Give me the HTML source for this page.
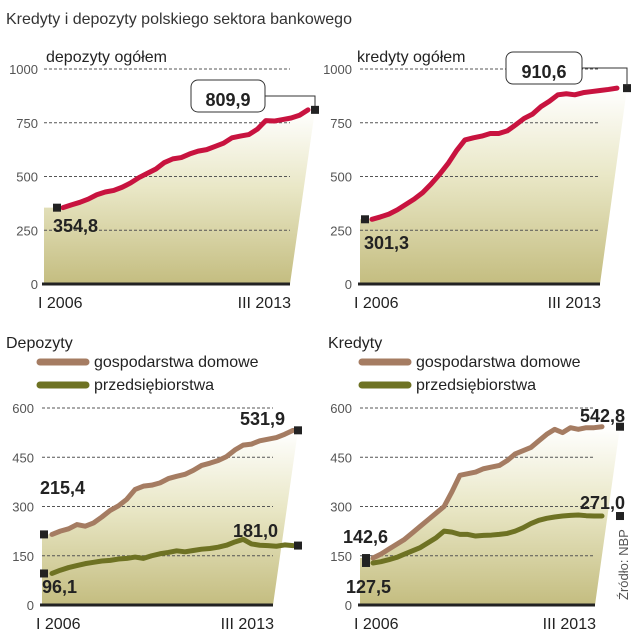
<!DOCTYPE html>
<html><head><meta charset="utf-8"><style>
body{margin:0;background:#fff;}
svg{display:block;font-family:"Liberation Sans",sans-serif;}
.ax{font-size:13px;fill:#555;}
.ttl{font-size:16px;fill:#222;}
.val{font-size:18px;font-weight:bold;fill:#222;font-family:"Liberation Sans Narrow","Liberation Sans",sans-serif;}
</style></head><body>
<svg id="c" width="640" height="640" viewBox="0 0 640 640">
<defs><linearGradient id="g" x1="0" y1="1" x2="0" y2="0"><stop offset="0" stop-color="#c4bd80"/><stop offset="0.55" stop-color="#e9e7c6"/><stop offset="1" stop-color="#ffffff"/></linearGradient></defs>
<text x="6" y="24" font-size="16" fill="#333">Kredyty i depozyty polskiego sektora bankowego</text>
</svg>
<script>
const depTotal=[355,368,380,395,415,428,435,450,470,495,515,535,565,582,588,605,618,625,640,655,680,688,695,720,760,758,765,772,785,810];
const credTotal=[301,312,325,345,370,395,425,465,510,560,620,670,680,688,700,700,712,740,770,790,825,850,880,885,880,890,895,900,905,911];
const depHouse=[215,225,232,245,240,250,268,288,302,322,352,362,365,372,385,392,398,410,425,432,440,452,472,487,490,500,505,510,520,532];
const depFirm=[96,106,114,120,126,130,134,136,140,142,146,142,150,156,160,165,162,166,170,172,176,182,192,200,186,182,181,179,183,181];
const credHouse=[143,155,170,185,200,220,240,260,280,300,345,395,400,405,415,420,425,440,460,470,480,500,520,535,525,540,535,540,540,543];
const credFirm=[128,132,138,145,155,165,175,190,205,225,222,215,215,210,212,213,215,218,225,235,248,258,264,268,271,273,274,272,271,271];
const topTicks=[0,250,500,750,1000];
const botTicks=[0,150,300,450,600];
const xLabels=["I 2006","III 2013"];

const svg=document.getElementById('c');
const NS='http://www.w3.org/2000/svg';
function mk(tag,attrs,name,parent){const e=document.createElementNS(NS,tag);for(const k in attrs)e.setAttribute(k,attrs[k]);


(parent||svg).appendChild(e);return e;}
function txt(x,y,s,cls,name,anchor){const t=mk('text',{x:x,y:y,class:cls,'text-anchor':anchor||'start'},name);t.textContent=s;return t;}

function panel(p){
  const yS=v=>p.y0-(v/p.max)*(p.y0-p.y1);
  const xS=i=>p.lx0+i*(p.lx1-p.lx0)/(p.series[0].data.length-1);
  const hi=p.series[0].data;
  const linePts=hi.map((v,i)=>xS(i)+','+yS(v)).join(' ');
  mk('polygon',{points:`${p.gx0},${p.y0} ${p.gx0},${yS(hi[0])} ${linePts} ${p.mx1},${yS(hi[hi.length-1])} ${p.gx1},${p.y0}`,fill:'url(#g)'},p.id+'-area');
  p.ticks.forEach((t,i)=>{
    if(i>0)mk('line',{x1:p.gx0,x2:p.gx1,y1:yS(t),y2:yS(t),stroke:'#555','stroke-dasharray':'3,2','stroke-width':1},p.id+'-gridline');
    txt(p.ax,yS(t)+5,String(t),'ax',p.id+'-y-tick','end');
  });
  mk('line',{x1:p.gx0-2,x2:p.gx1,y1:p.y0,y2:p.y0,stroke:'#222','stroke-width':3},p.id+'-x-axis');
  txt(p.gx0-6,p.y0+24,xLabels[0],'ttl',p.id+'-x-start');
  txt(p.gx1+1,p.y0+24,xLabels[1],'ttl',p.id+'-x-end','end');
  p.series.forEach((s,k)=>{
    const pts=s.data.map((v,i)=>xS(i)+','+yS(v)).join(' ');
    mk('polyline',{points:pts,fill:'none',stroke:s.color,'stroke-width':5,'stroke-linejoin':'round','stroke-linecap':'round'},p.id+'-'+s.name+'-line');
    const n=s.data.length;
    mk('rect',{x:p.mx0-4,y:yS(s.data[0])-4,width:8,height:8,fill:'#222'},p.id+'-'+s.name+'-start-marker');
    mk('rect',{x:p.mx1-4,y:yS(s.data[n-1])-4,width:8,height:8,fill:'#222'},p.id+'-'+s.name+'-end-marker');
    const sl=s.sl;txt(sl[0],sl[1],s.startLabel,'val',p.id+'-'+s.name+'-start-value');
    const el=s.el;txt(el[0],el[1],s.endLabel,'val',p.id+'-'+s.name+'-end-value','end');
  });
}
panel({id:'dep-total',y0:284,y1:69,max:1000,ticks:topTicks,gx0:44,gx1:290,ax:38,lx0:63,lx1:308,mx0:57,mx1:315,
 series:[{name:'total',data:depTotal,color:'#c8133f',startLabel:'354,8',endLabel:'',sl:[53,232],el:[0,0]}]});
panel({id:'cred-total',y0:284,y1:69,max:1000,ticks:topTicks,gx0:360,gx1:600,ax:352,lx0:372,lx1:617,mx0:365,mx1:627,
 series:[{name:'total',data:credTotal,color:'#c8133f',startLabel:'301,3',endLabel:'',sl:[364,249],el:[0,0]}]});
panel({id:'dep-split',y0:605,y1:408,max:600,ticks:botTicks,gx0:42,gx1:273,ax:34,lx0:52,lx1:293,mx0:44,mx1:298,
 series:[{name:'households',data:depHouse,color:'#a57c62',startLabel:'215,4',endLabel:'531,9',sl:[40,494],el:[285,425]},
         {name:'firms',data:depFirm,color:'#6e7223',startLabel:'96,1',endLabel:'181,0',sl:[42,593],el:[278,537]}]});
panel({id:'cred-split',y0:605,y1:408,max:600,ticks:botTicks,gx0:360,gx1:595,ax:352,lx0:373,lx1:602,mx0:366,mx1:620,
 series:[{name:'households',data:credHouse,color:'#a57c62',startLabel:'142,6',endLabel:'542,8',sl:[343,543],el:[625,422]},
         {name:'firms',data:credFirm,color:'#6e7223',startLabel:'127,5',endLabel:'271,0',sl:[346,593],el:[625,509]}]});
txt(46,62,'depozyty ogółem','ttl','dep-total-title');
txt(357,62,'kredyty ogółem','ttl','cred-total-title');
txt(6,348,'Depozyty','ttl','dep-split-title');
txt(328,348,'Kredyty','ttl','cred-split-title');
function callout(x,y,w,s,lx,ly,name){
  mk('rect',{x:x,y:y,width:w,height:32,rx:7,fill:'#fff',stroke:'#333','stroke-width':1},name+'-box');
  mk('polyline',{points:`${x+w},${y+16} ${lx},${y+16} ${lx},${ly}`,fill:'none',stroke:'#333','stroke-width':1},name+'-leader');
  const t=txt(x+w/2,y+26,s,'val',name+'-text','middle');t.setAttribute('font-size','24');
}
callout(191,80,74,'809,9',315,106,'dep-total-callout');
callout(506,52,76,'910,6',627,86,'cred-total-callout');
[[0,'gospodarstwa domowe','#a57c62',367],[1,'przedsiębiorstwa','#6e7223',390]].forEach(l=>{
  [[40,86],[362,408]].forEach((x,j)=>{
    mk('line',{x1:x[0],x2:x[1],y1:l[3]-5,y2:l[3]-5,stroke:l[2],'stroke-width':7,'stroke-linecap':'round'},'legend-swatch');
    txt(x[1]+8,l[3],l[1],'ttl','legend-entry');
  });
});
const src=txt(0,0,'Źródło: NBP','ax','source-note');
src.setAttribute('transform','translate(628,600) rotate(-90)');
</script>
</body></html>
